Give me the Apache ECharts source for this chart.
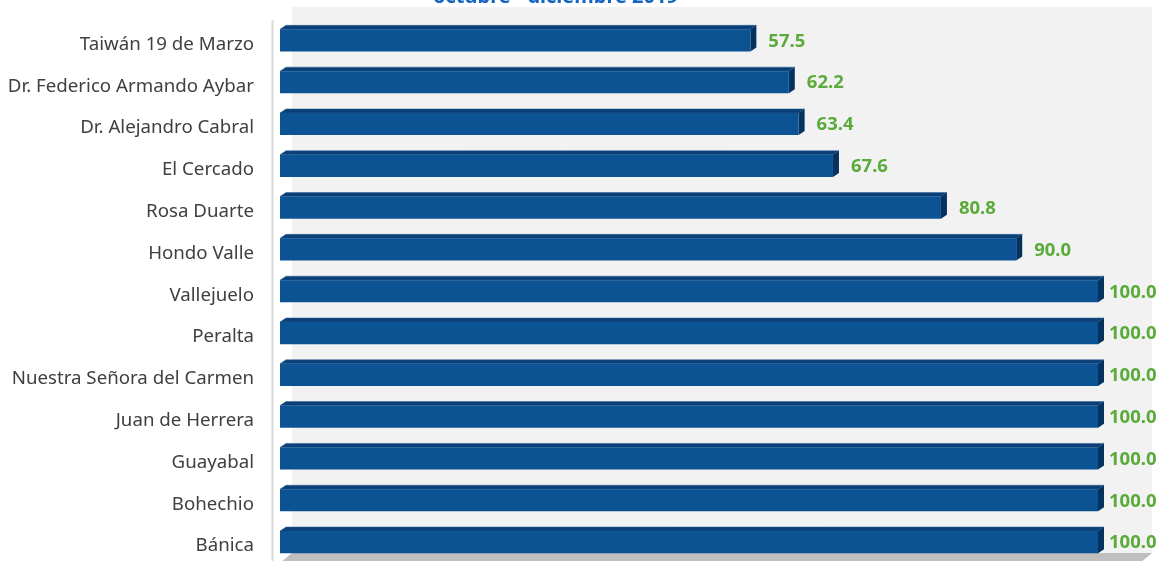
<!DOCTYPE html>
<html><head><meta charset="utf-8">
<script src="https://cdn.jsdelivr.net/npm/echarts@6/dist/echarts.min.js"></script>
<style>html,body{margin:0;padding:0;background:#fff}#c{width:1159px;height:561px}</style>
</head><body><div id="c"></div>
<script>
const titleText = 'octubre - diciembre 2019';
const categories = ['Taiwán 19 de Marzo','Dr. Federico Armando Aybar','Dr. Alejandro Cabral','El Cercado','Rosa Duarte','Hondo Valle','Vallejuelo','Peralta','Nuestra Señora del Carmen','Juan de Herrera','Guayabal','Bohechio','Bánica'];
const values = [57.5,62.2,63.4,67.6,80.8,90.0,100,100,100,100,100,100,100];

const chart = echarts.init(document.getElementById('c'));
const DX = 6, DY = 4;
chart.setOption({
  animation:false,
  title:{text:titleText,left:428,top:-18,textStyle:{fontFamily:'Noto Sans',fontWeight:'bold',fontSize:20,color:'#1565c0'}},
  graphic:[
    {type:'rect',z:-10,shape:{x:292,y:7,width:860,height:546},style:{fill:'#f2f2f2'}},
    {type:'polygon',z:-10,shape:{points:[[280,563],[292,553],[1152,553],[1140,563]]},style:{fill:'#bfbfbf'}},
    {type:'line',z:-5,shape:{x1:272.5,y1:20,x2:272.5,y2:561},style:{stroke:'#d9d9d9',lineWidth:2}}
  ],
  grid:{left:280,top:17.5,width:818,height:546},
  xAxis:{type:'value',min:0,max:100,show:false},
  yAxis:{type:'category',data:categories,inverse:true,
    axisLine:{show:false},axisTick:{show:false},
    axisLabel:{margin:26,verticalAlign:'top',lineHeight:12,fontFamily:'Noto Sans',fontSize:18.7,color:'#404040'}},
  series:[{
    type:'custom',
    data:values.map((v,i)=>[v,i]),
    encode:{x:0,y:1},
    renderItem:function(params,api){
      const v=api.value(0), i=api.value(1);
      const p0=api.coord([0,i]), p1=api.coord([v,i]);
      const band=api.size([0,1])[1];
      const h=band*0.53;
      const x0=p0[0], x1=p1[0], y0=p0[1]-h/2+2, y1=y0+h;
      const tx=Math.min(x1+DX+12, 1109);
      return {type:'group',children:[
        {type:'polygon',shape:{points:[[x0,y0],[x0+DX,y0-DY],[x1+DX,y0-DY],[x1,y0]]},style:{fill:'#0a3f78',stroke:'#2a5f95',lineWidth:0.5}},
        {type:'polygon',shape:{points:[[x1,y0],[x1+DX,y0-DY],[x1+DX,y1-DY],[x1,y1]]},style:{fill:'#06325f'}},
        {type:'rect',shape:{x:x0,y:y0,width:x1-x0,height:h},style:{fill:'#0c5394'}},
        {type:'text',x:tx,y:(y0+y1)/2+1,style:{text:v.toFixed(1),fill:'#5aab3a',font:'bold 18.5px "Noto Sans"',verticalAlign:'middle',align:'left'}}
      ]};
    }
  }]
});
</script></body></html>
